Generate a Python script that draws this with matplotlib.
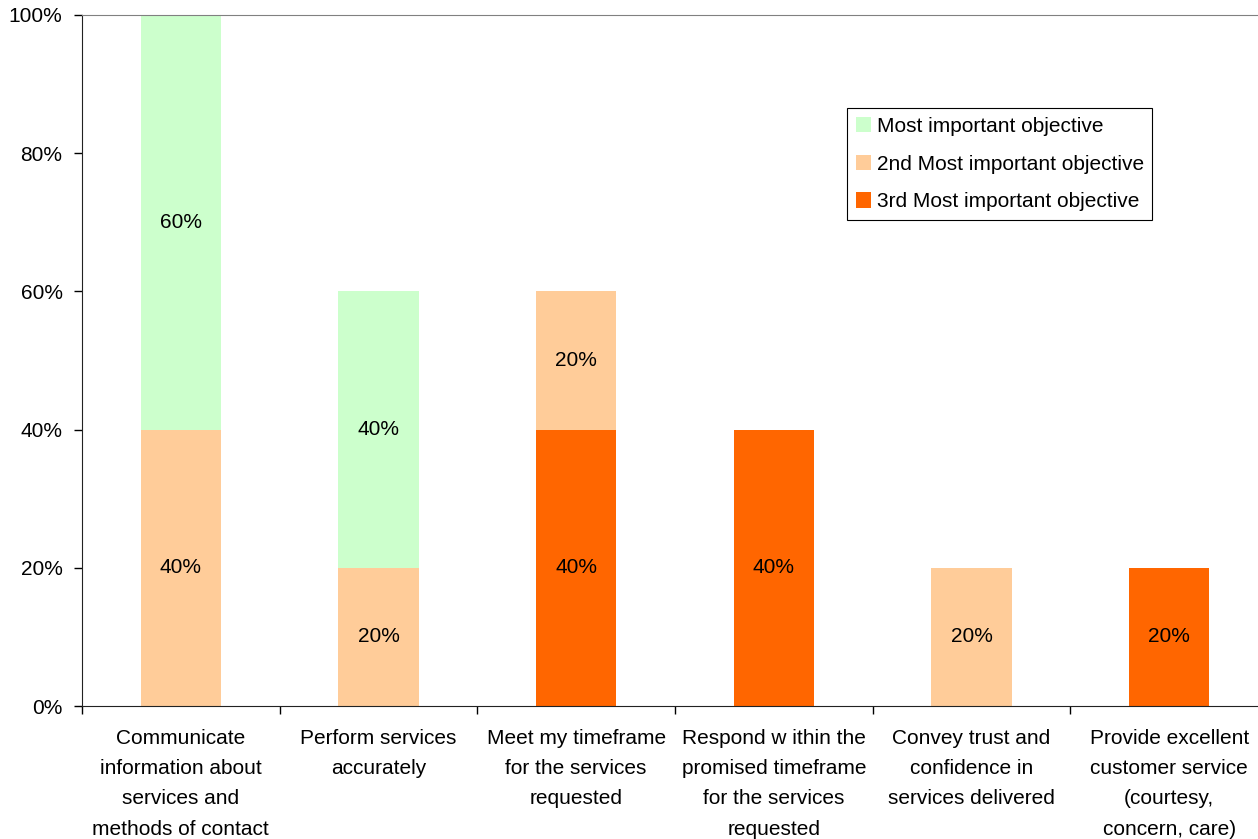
import matplotlib.pyplot as plt
from matplotlib.ticker import FixedLocator, PercentFormatter
import numpy as np

categories = [
    "Communicate\ninformation about\nservices and\nmethods of contact",
    "Perform services\naccurately",
    "Meet my timeframe\nfor the services\nrequested",
    "Respond w ithin the\npromised timeframe\nfor the services\nrequested",
    "Convey trust and\nconfidence in\nservices delivered",
    "Provide excellent\ncustomer service\n(courtesy,\nconcern, care)",
]
most = [60, 40, 0, 0, 0, 0]
second = [40, 20, 20, 0, 20, 0]
third = [0, 0, 40, 40, 0, 20]

series = [
    ("3rd Most important objective", third, "#FF6600"),
    ("2nd Most important objective", second, "#FFCC99"),
    ("Most important objective", most, "#CCFFCC"),
]

plt.rcParams["font.family"] = ["Liberation Sans", "DejaVu Sans"]
plt.rcParams["font.size"] = 15

fig = plt.figure(figsize=(12.58, 8.39), dpi=100)
ax = fig.add_axes([82 / 1258, 133 / 839, 1186 / 1258, 691 / 839])

x = np.arange(len(categories))
bottom = np.zeros(len(categories))
handles = []
for name, vals, color in series:
    vals = np.array(vals, dtype=float)
    bars = ax.bar(x, vals, width=0.405, bottom=bottom, color=color,
                  label=name, linewidth=0)
    handles.append(bars)
    for xi, b, v in zip(x, bottom, vals):
        if v > 0:
            ax.text(xi, b + v / 2, f"{v:.0f}%", ha="center", va="center",
                    fontsize=15)
    bottom += vals

ax.set_xlim(-0.5, len(categories) - 0.5)
ax.set_ylim(0, 100)
ax.yaxis.set_major_locator(FixedLocator([0, 20, 40, 60, 80, 100]))
ax.yaxis.set_major_formatter(PercentFormatter(decimals=0))
ax.tick_params(axis="y", direction="out", length=6, width=1, pad=8,
               labelsize=15)

# category boundaries get the tick marks, centers carry the labels
ax.xaxis.set_major_locator(FixedLocator(np.arange(len(categories) + 1) - 0.5))
ax.xaxis.set_major_formatter(plt.NullFormatter())
ax.xaxis.set_minor_locator(FixedLocator(x))
ax.set_xticklabels(categories, minor=True, linespacing=1.75)
ax.tick_params(axis="x", which="major", direction="out", length=6, width=1)
ax.tick_params(axis="x", which="minor", length=0, pad=16.5, labelsize=15)

ax.spines["top"].set_color("#808080")
ax.spines["right"].set_visible(False)
ax.spines["left"].set_color("#222222")
ax.spines["bottom"].set_color("#222222")

leg = ax.legend(handles=handles[::-1], loc="upper left",
                bbox_to_anchor=(765 / 1186, 1 - 93 / 691),
                frameon=True, fancybox=False, framealpha=1, edgecolor="black",
                handlelength=0.75, handleheight=0.75, handletextpad=0.25,
                labelspacing=0.9, borderpad=0.42, borderaxespad=0,
                fontsize=15)
leg.get_frame().set_linewidth(0.8)

fig.savefig("out.png", dpi=100, facecolor="white")
